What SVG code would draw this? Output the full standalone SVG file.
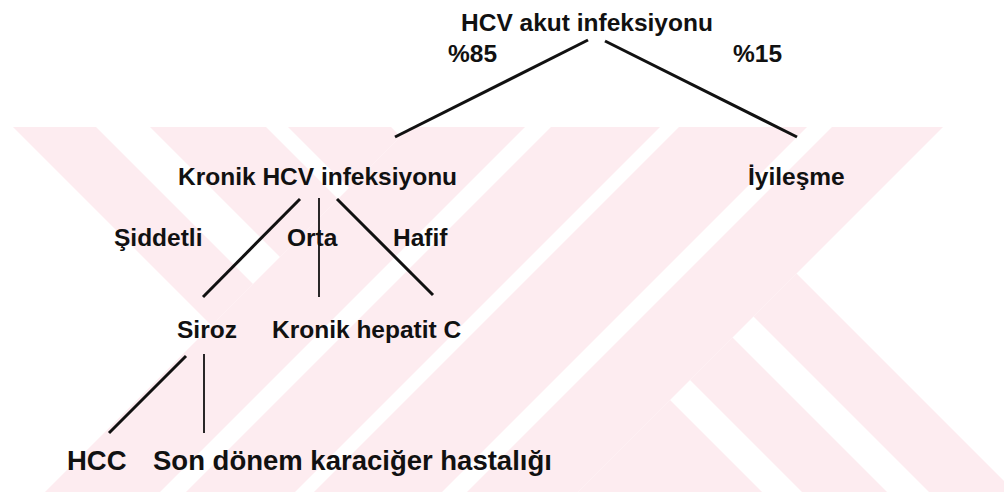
<svg xmlns="http://www.w3.org/2000/svg" width="1004" height="492" viewBox="0 0 1004 492">
  <style>
    .wm { fill: #fdecf0; stroke: none; }
    .lbl { font-family: "Liberation Sans", Arial, sans-serif; font-weight: bold; font-size: 24.5px; fill: #111; }
    .lbl-lg { font-family: "Liberation Sans", Arial, sans-serif; font-weight: bold; font-size: 27.5px; fill: #111; }
    .edge { stroke: #111; stroke-width: 3; stroke-linecap: butt; fill: none; }
    .edge-thin { stroke: #111; stroke-width: 1.8; fill: none; }
  </style>
  <defs>
    <clipPath id="wmclip">
      <rect x="0" y="127" width="1004" height="365"/>
    </clipPath>
  </defs>
  <rect x="0" y="0" width="1004" height="492" fill="#ffffff"/>

  <g id="watermark" clip-path="url(#wmclip)">
    <polygon class="wm" points="410,127 525,127 160,492 45,492"/>
    <polygon class="wm" points="551,127 660,127 295,492 186,492"/>
    <polygon class="wm" points="679,127 807,127 442,492 314,492"/>
    <polygon class="wm" points="832,127 943,127 578,492 467,492"/>
    <polygon class="wm" points="13,127 96,127 253,284 211.5,325.5"/>
    <polygon class="wm" points="150,127 266,127 338,199 280,257"/>
    <polygon class="wm" points="288,127 391,127 400.5,136.5 349,188"/>
    <polygon class="wm" points="753.5,316.5 796.5,273.5 1015,492 929,492"/>
    <polygon class="wm" points="690,380 732.5,337.5 887,492 802,492"/>
    <polygon class="wm" points="670,400 762,492 578,492"/>
  </g>

  <g id="connectors">
    <line class="edge" x1="588" y1="40" x2="395" y2="137"/>
    <line class="edge" x1="605" y1="41" x2="797" y2="137"/>
    <line class="edge" x1="300" y1="199" x2="203" y2="297"/>
    <line class="edge-thin" x1="319" y1="198" x2="319" y2="297"/>
    <line class="edge" x1="337" y1="199" x2="433" y2="295"/>
    <line class="edge" x1="186" y1="356" x2="109" y2="433"/>
    <line class="edge-thin" x1="204" y1="354" x2="204" y2="433"/>
  </g>

  <g id="node-hcv-akut">
    <text class="lbl" x="461" y="31">HCV akut infeksiyonu</text>
  </g>
  <g id="label-85">
    <text class="lbl" x="448" y="62">%85</text>
  </g>
  <g id="label-15">
    <text class="lbl" x="733" y="62">%15</text>
  </g>
  <g id="node-kronik-hcv">
    <text class="lbl" x="178" y="185">Kronik HCV infeksiyonu</text>
  </g>
  <g id="node-iyilesme">
    <text class="lbl" x="748" y="185">İyileşme</text>
  </g>
  <g id="label-siddetli">
    <text class="lbl" x="114" y="246">Şiddetli</text>
  </g>
  <g id="label-orta">
    <text class="lbl" x="287" y="246">Orta</text>
  </g>
  <g id="label-hafif">
    <text class="lbl" x="393" y="246">Hafif</text>
  </g>
  <g id="node-siroz">
    <text class="lbl" x="177" y="338">Siroz</text>
  </g>
  <g id="node-kronik-hepatit">
    <text class="lbl" x="272" y="338">Kronik hepatit C</text>
  </g>
  <g id="node-hcc">
    <text class="lbl-lg" x="67" y="470">HCC</text>
  </g>
  <g id="node-son-donem">
    <text class="lbl-lg" x="153" y="470">Son dönem karaciğer hastalığı</text>
  </g>
</svg>
